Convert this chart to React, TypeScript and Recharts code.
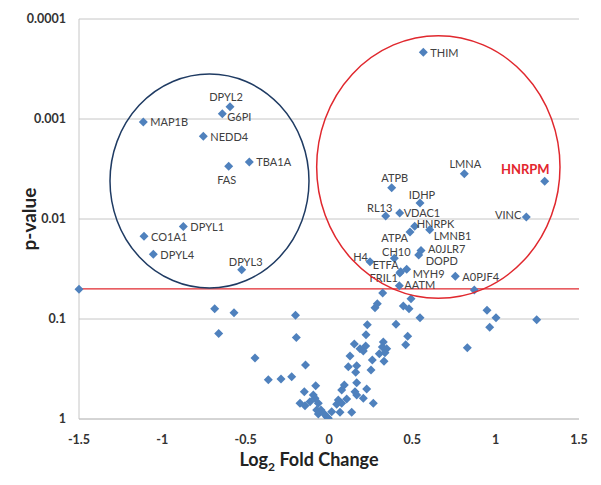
import React from 'react'
import {
  CartesianGrid, ReferenceDot, ReferenceLine, Scatter, ScatterChart, XAxis, YAxis,
} from 'recharts'

// Volcano plot: log2 fold change vs p-value (log scale, small p on top)
const X_TICKS = [-1.5, -1, -0.5, 0, 0.5, 1, 1.5]
const P_TICKS = [0.0001, 0.001, 0.01, 0.1, 1]
const P_CUTOFF = 0.05

const HIT_NAMES = [
  'DPYL2', 'G6PI', 'MAP1B', 'NEDD4', 'TBA1A', 'FAS', 'DPYL1', 'CO1A1', 'DPYL4', 'DPYL3',
  'THIM', 'LMNA', 'HNRPM', 'VINC', 'ATPB', 'IDHP', 'RL13', 'VDAC1', 'HNRPK', 'ATPA',
  'LMNB1', 'A0JLR7', 'DOPD', 'H4', 'CH10', 'ETFA', 'FRIL1', 'MYH9', 'AATM', 'A0PJF4',
]
const HIT_FC = [
  -0.594, -0.64, -1.114, -0.754, -0.478, -0.602, -0.874, -1.11, -1.054, -0.524,
  0.566, 0.812, 1.294, 1.184, 0.376, 0.546, 0.34, 0.424, 0.514, 0.486,
  0.604, 0.552, 0.538, 0.246, 0.392, 0.43, 0.425, 0.466, 0.422, 0.758,
]
const HIT_P = [
  0.000753, 0.000885, 0.00107, 0.00149, 0.00269, 0.00297, 0.0119, 0.0149, 0.0225, 0.0321,
  0.000215, 0.00352, 0.0042, 0.00955, 0.00486, 0.00692, 0.00933, 0.00871, 0.0118, 0.0135,
  0.0128, 0.0207, 0.0229, 0.0267, 0.0247, 0.0336, 0.0347, 0.0318, 0.0465, 0.0374,
]

const OTHER_FC = [
  -1.5, -0.686, -0.57, -0.662, -0.444, -0.364, -0.288, -0.224, -0.201, -0.196,
  -0.141, -0.174, -0.148, -0.144, -0.114, -0.094, -0.084, -0.08, -0.064, -0.074,
  -0.048, -0.064, -0.028, -0.014, -0.004, 0.016, 0.046, 0.056, 0.066, 0.076,
  0.076, 0.092, 0.106, 0.116, 0.126, 0.136, 0.152, 0.156, 0.166, 0.16,
  0.166, 0.166, 0.186, 0.206, 0.22, 0.226, 0.206, 0.252, 0.26, 0.266,
  0.222, 0.23, 0.276, 0.29, 0.302, 0.326, 0.32, 0.346, 0.336, 0.33,
  0.322, 0.402, 0.446, 0.48, 0.492, 0.472, 0.46, 0.546, 0.872, 0.948,
  1.002, 0.964, 1.246, 0.83,
]
const OTHER_P = [
  0.0505, 0.0789, 0.0865, 0.14, 0.245, 0.405, 0.398, 0.378, 0.0918, 0.153,
  0.288, 0.697, 0.533, 0.736, 0.671, 0.575, 0.621, 0.465, 0.697, 0.813,
  0.813, 0.891, 0.891, 0.948, 0.984, 0.845, 0.713, 0.646, 0.857, 0.697,
  0.513, 0.457, 0.631, 0.3, 0.234, 0.857, 0.178, 0.533, 0.434, 0.341,
  0.293, 0.575, 0.198, 0.209, 0.186, 0.501, 0.621, 0.324, 0.257, 0.697,
  0.144, 0.114, 0.0771, 0.0703, 0.222, 0.17, 0.191, 0.198, 0.217, 0.265,
  0.055, 0.113, 0.0741, 0.0789, 0.0627, 0.149, 0.181, 0.097, 0.0513, 0.0818,
  0.097, 0.121, 0.1016, 0.194,
]

const hits = HIT_NAMES.map((name, i) => ({ name, fc: HIT_FC[i], p: HIT_P[i] }))
const others = OTHER_FC.map((fc, i) => ({ fc, p: OTHER_P[i] }))

// label placement [dx, dy, anchor] relative to the marker
const LABEL_POS: Record<string, [number, number, 'start' | 'middle' | 'end']> = {
  DPYL2: [-4, -10, 'middle'], G6PI: [5, 3, 'start'], MAP1B: [7, 0, 'start'],
  NEDD4: [7, 0, 'start'], TBA1A: [7, 0, 'start'], FAS: [-2, 13, 'middle'],
  DPYL1: [7, 0, 'start'], CO1A1: [7, 0, 'start'], DPYL4: [7, 0, 'start'],
  DPYL3: [4, -8, 'middle'], THIM: [7, 0, 'start'], LMNA: [1, -10, 'middle'],
  HNRPM: [5, -12, 'end'], VINC: [-5, -3, 'end'], ATPB: [3, -10, 'middle'],
  IDHP: [2, -9, 'middle'], RL13: [-6, -8, 'middle'], VDAC1: [4, -1, 'start'],
  HNRPK: [2, -3, 'start'], ATPA: [-2, 5, 'end'], LMNB1: [4, 6, 'start'],
  A0JLR7: [7, -2, 'start'], DOPD: [7, 6, 'start'], H4: [-2, -5, 'end'],
  CH10: [2, -7, 'middle'], ETFA: [-2, -7, 'end'], FRIL1: [-2, 4, 'end'],
  MYH9: [6, 4, 'start'], AATM: [5, -1, 'start'], A0PJF4: [7, 0, 'start'],
}

// circled groups: centre (fc, p), radius in fc units and in decades of p
const GROUPS = [
  { fc: -0.717, p: 0.00417, rFc: 0.597, rDec: 1.07, color: '#1f3b63' },
  { fc: 0.656, p: 0.00302, rFc: 0.73, rDec: 1.313, color: '#e0282e' },
]

const W = 601
const H = 485
const PLOT_W = 500
const PLOT_H = 400
const FONT = 'Lato, "Open Sans", sans-serif'
const BLUE = '#4f81bd'

const diamond = (cx: number, cy: number, r = 4.5) =>
  `M${cx},${cy - r}L${cx + r},${cy}L${cx},${cy + r}L${cx - r},${cy}Z`

function Dot({ cx, cy }: any) {
  return <path d={diamond(cx, cy)} fill={BLUE} />
}

function HitDot({ cx, cy, payload }: any) {
  const [dx, dy, anchor] = LABEL_POS[payload.name] ?? [7, 0, 'start']
  const hot = payload.name === 'HNRPM'
  return (
    <g>
      <path d={diamond(cx, cy)} fill={BLUE} />
      <text x={cx + dx} y={cy + dy} textAnchor={anchor} dominantBaseline="central"
        fontFamily={FONT} fontSize={hot ? 13 : 11} fontWeight={hot ? 700 : 400}
        fill={hot ? '#e3262e' : '#404040'}>
        {payload.name}
      </text>
    </g>
  )
}

export default function App() {
  return (
    <div style={{ position: 'absolute', left: 0, top: 0, width: W, height: H, background: '#fff', fontFamily: FONT }}>
      <ScatterChart width={W} height={H} margin={{ top: 19, right: 22, bottom: 36, left: 0 }}>
        <CartesianGrid vertical={false} stroke="#c6c6c6" />
        <XAxis type="number" dataKey="fc" domain={[-1.5, 1.5]} ticks={X_TICKS} height={30}
          tickLine={false} tickSize={0} tickMargin={16} axisLine={{ stroke: '#c6c6c6' }}
          tick={{ fill: '#333', fontSize: 12.5, fontWeight: 700, fontFamily: FONT }} />
        <YAxis type="number" dataKey="p" scale="log" domain={[0.0001, 1]} reversed allowDataOverflow
          ticks={P_TICKS} width={79} tickLine={false} tickSize={0} tickMargin={13}
          axisLine={{ stroke: '#c6c6c6' }}
          tick={{ fill: '#333', fontSize: 12.5, fontWeight: 700, fontFamily: FONT }}
          tickFormatter={(v) => String(v)} />
        <Scatter data={others} shape={<Dot />} isAnimationActive={false} />
        <Scatter data={hits} shape={<HitDot />} isAnimationActive={false} />
        <ReferenceLine y={P_CUTOFF} stroke="#e0282e" strokeWidth={1.2} />
        {GROUPS.map((g, i) => (
          <ReferenceDot key={i} x={g.fc} y={g.p} r={1} ifOverflow="visible"
            shape={(props: any) => (
              <ellipse cx={props.cx} cy={props.cy} rx={g.rFc * PLOT_W / 3} ry={g.rDec * PLOT_H / 4}
                fill="none" stroke={g.color} strokeWidth={1.5} />
            )} />
        ))}
      </ScatterChart>
      <div style={{
        position: 'absolute', left: 28, top: 219, transform: 'translate(-50%, -50%) rotate(-90deg)',
        fontSize: 19, fontWeight: 700, color: '#222', whiteSpace: 'nowrap',
      }}>p-value</div>
      <div style={{
        position: 'absolute', left: 309, top: 461, transform: 'translate(-50%, -50%)',
        fontSize: 18, fontWeight: 700, color: '#222', whiteSpace: 'nowrap',
      }}>Log<sub style={{ fontSize: 12 }}>2</sub> Fold Change</div>
    </div>
  )
}
